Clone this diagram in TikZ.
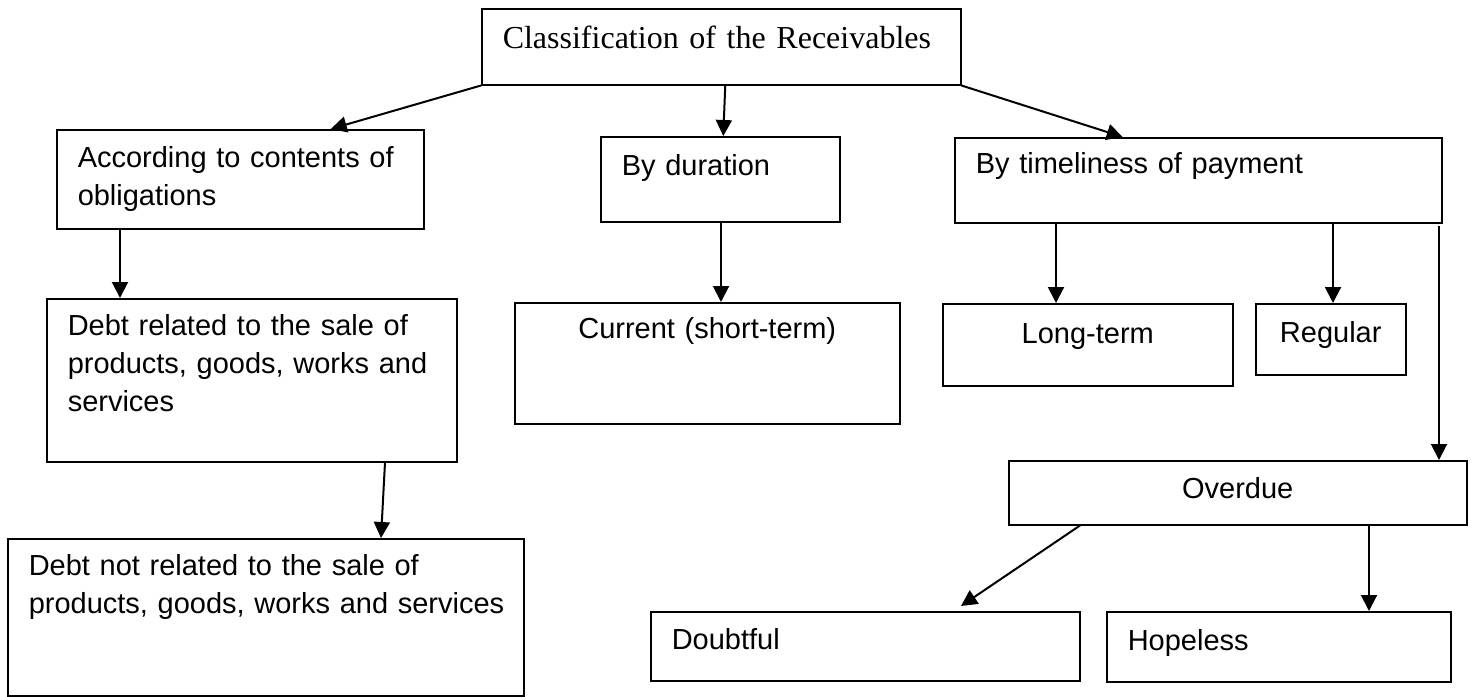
\documentclass[tikz,border=0pt]{standalone}
\usepackage{fontspec}
\setmainfont{Liberation Sans}
\newfontfamily\titlefont{Liberation Serif}
\usetikzlibrary{arrows.meta, positioning}
\newcommand{\boxfont}{\fontsize{29}{38}\selectfont}

\begin{document}
\begin{tikzpicture}[x=1pt, y=-1pt, >={Triangle[length=16pt, width=16pt]},
  box/.style={draw, line width=1.5pt, anchor=north west, inner xsep=21pt,
              inner ysep=0pt, align=left, font=\boxfont},
  cbox/.style={box, align=center},
  link/.style={->, line width=2pt}]
  \path[fill=white] (0,0) rectangle (1472,685);

  % Top box
  \node[box, font=\titlefont\fontsize{32}{38}\selectfont, text width=437pt,
        text height=40pt, text depth=36pt] (root) at (481,8)
        {Classification of the Receivables};

  % Kinds of classification
  \node[box, text width=325pt, text height=38pt, text depth=61pt] (contents) at (56,129)
        {According to contents of\\obligations};
  \node[box, text width=197pt, text height=39pt, text depth=46pt] (duration) at (600,136)
        {By duration};
  \node[box, text width=445pt, text height=36pt, text depth=49pt] (timeliness) at (954,137)
        {By timeliness of payment};

  % Third row
  \node[box, text width=368pt, text height=37pt, text depth=126pt] (related) at (46,298)
        {Debt related to the sale of\\products, goods, works and\\services};
  \node[cbox, text width=343pt, text height=36pt, text depth=85pt] (current) at (514,302)
        {Current (short-term)};
  \node[cbox, text width=248pt, text height=40pt, text depth=42pt] (longterm) at (942,303)
        {Long-term};
  \node[cbox, text width=108pt, text height=39pt, text depth=32pt] (regular) at (1255,303)
        {Regular};

  % Lower boxes
  \node[cbox, text width=416pt, text height=38pt, text depth=26pt] (overdue) at (1008,460)
        {Overdue};
  \node[box, text width=474pt, text height=37pt, text depth=120pt] (unrelated) at (7,538)
        {Debt not related to the sale of\\\mbox{products, goods, works and services}};
  \node[box, text width=387pt, text height=38pt, text depth=31pt] (doubtful) at (650,611)
        {Doubtful};
  \node[box, text width=302pt, text height=39pt, text depth=31pt] (hopeless) at (1106,611)
        {Hopeless};

  % Arrows from the top box
  \draw[link] (root.south west) -- ([xshift=90.5pt]contents.north);
  \draw[link] ([xshift=4pt]root.south) -- ([xshift=3pt]duration.north);
  \draw[link] (root.south east) -- ([xshift=-75.5pt]timeliness.north);

  % Arrows down the branches
  \draw[link] ([xshift=64pt]contents.south west) -- ([xshift=74pt]related.north west);
  \draw[link] ([xshift=339pt]related.south west) -- ([xshift=374pt]unrelated.north west);
  \draw[link] ([xshift=121pt]duration.south west) -- ([xshift=207pt]current.north west);
  \draw[link] ([xshift=102pt]timeliness.south west) -- ([xshift=114pt]longterm.north west);
  \draw[link] ([xshift=379pt]timeliness.south west) -- ([xshift=78pt]regular.north west);
  \draw[link] ([xshift=485pt, yshift=-2pt]timeliness.south west) -- ([xshift=431pt]overdue.north west);
  \draw[link] ([xshift=72pt]overdue.south west) -- ([xshift=311pt, yshift=5pt]doubtful.north west);
  \draw[link] ([xshift=361pt]overdue.south west) -- ([xshift=263pt]hopeless.north west);
\end{tikzpicture}
\end{document}
